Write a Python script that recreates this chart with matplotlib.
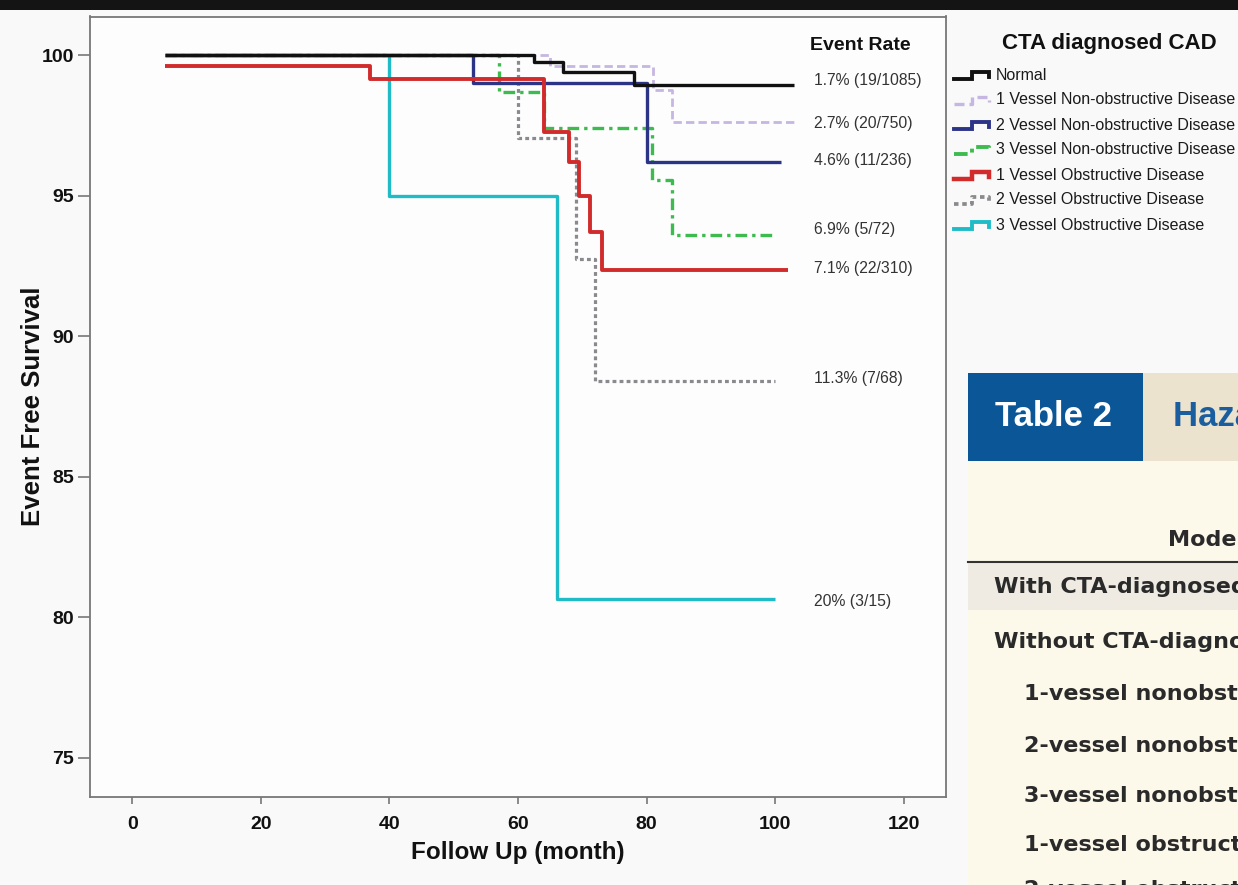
import matplotlib
matplotlib.use("Agg")
import matplotlib.pyplot as plt
from matplotlib.patches import Rectangle
from matplotlib.lines import Line2D

plt.rcParams['font.family'] = ['Liberation Sans', 'DejaVu Sans']

# ---- Kaplan-Meier step data (months, % event free) ----
normal_t = [5, 62.5, 67, 78, 103]
normal_s = [100, 99.75, 99.4, 98.93, 98.93]

v1_nonobs_t = [5, 65, 81, 84, 103]
v1_nonobs_s = [100, 99.6, 98.75, 97.6, 97.6]

v2_nonobs_t = [5, 53, 80, 101]
v2_nonobs_s = [100, 99.02, 96.2, 96.2]

v3_nonobs_t = [5, 57, 64, 80.8, 84, 100]
v3_nonobs_s = [100, 98.7, 97.4, 95.55, 93.6, 93.6]

v1_obs_t = [5, 37, 64, 68, 69.5, 71.2, 73, 102]
v1_obs_s = [99.6, 99.15, 97.25, 96.2, 95.0, 93.7, 92.35, 92.35]

v2_obs_t = [5, 60, 69, 72, 100]
v2_obs_s = [100, 97.05, 92.75, 88.4, 88.4]

v3_obs_t = [5, 40, 66, 100]
v3_obs_s = [100, 95.0, 80.65, 80.65]

group_names = ["Normal",
               "1 Vessel Non-obstructive Disease",
               "2 Vessel Non-obstructive Disease",
               "3 Vessel Non-obstructive Disease",
               "1 Vessel Obstructive Disease",
               "2 Vessel Obstructive Disease",
               "3 Vessel Obstructive Disease"]

event_rates = ["1.7% (19/1085)", "2.7% (20/750)", "4.6% (11/236)",
               "6.9% (5/72)", "7.1% (22/310)", "11.3% (7/68)", "20% (3/15)"]
event_label_y = [99.08, 97.55, 96.23, 93.8, 92.39, 88.5, 80.55]

x_ticks = [0, 20, 40, 60, 80, 100, 120]
y_ticks = [75, 80, 85, 90, 95, 100]

table_rows = ["With CTA-diagnosed CAD",
              "Without CTA-diagnosed CAD",
              "1-vessel nonobstructive",
              "2-vessel nonobstructive",
              "3-vessel nonobstructive",
              "1-vessel obstructive",
              "2-vessel obstructive"]

# ---- styles ----
series = [
    (normal_t, normal_s, dict(color="#111111", lw=2.4, ls="-")),
    (v1_nonobs_t, v1_nonobs_s, dict(color="#c6b6e2", lw=2.0, ls=(0, (3, 1.5)))),
    (v2_nonobs_t, v2_nonobs_s, dict(color="#2c3488", lw=2.4, ls="-")),
    (v3_nonobs_t, v3_nonobs_s, dict(color="#3dbb4e", lw=2.4, ls=(0, (3.5, 1.5, 1, 1.5)))),
    (v1_obs_t, v1_obs_s, dict(color="#d12b2b", lw=2.8, ls="-")),
    (v2_obs_t, v2_obs_s, dict(color="#8a8a8e", lw=2.3, ls=(0, (1.2, 1.0)))),
    (v3_obs_t, v3_obs_s, dict(color="#1fbcc8", lw=2.4, ls="-")),
]

W, H = 1238, 885
fig = plt.figure(figsize=(W / 100, H / 100), dpi=100, facecolor="#f9f9f9")

# full-figure overlay in pixel units for the decorations around the plot
ov = fig.add_axes([0, 0, 1, 1], zorder=0)
ov.set_xlim(0, W)
ov.set_ylim(H, 0)
ov.axis("off")
ov.add_patch(Rectangle((0, 0), W, 10, color="#141414", lw=0))

ax = fig.add_axes([90 / W, 1 - 797 / H, (946 - 90) / W, (797 - 16.5) / H], zorder=2)
ax.set_facecolor("#fdfdfd")

order = [6, 5, 3, 2, 1, 0, 4]
for i in order:
    t, s, st = series[i]
    ax.step(t, s, where="post", solid_capstyle="butt", dash_capstyle="butt",
            zorder=3 + (i == 4), **st)

ax.set_xlim(-6.6, 126.6)
ax.set_ylim(73.6, 101.37)
ax.set_xticks(x_ticks)
ax.set_yticks(y_ticks)
ax.tick_params(axis="both", direction="out", width=1.2, color="#777777", labelsize=14)
ax.tick_params(axis="x", length=5, pad=8.5)
ax.tick_params(axis="y", length=9, pad=2.5)
for lab in ax.get_xticklabels() + ax.get_yticklabels():
    lab.set_fontweight("bold")
    lab.set_color("#111111")
for sp in ax.spines.values():
    sp.set_color("#777777")
    sp.set_linewidth(1.3)

ax.set_xlabel("Follow Up (month)", fontsize=17.5, fontweight="bold", color="#111111", labelpad=6)
ax.set_ylabel("Event Free Survival", fontsize=18.5, fontweight="bold", color="#111111")
ax.yaxis.set_label_coords((45 - 90) / 856, 0.5)

# event rates beside each curve
ax.text(860, 45, "Event Rate", transform=ov.transData, ha="center", va="center",
        fontsize=14, fontweight="bold", color="#111111")
for txt, yv in zip(event_rates, event_label_y):
    ax.text(106.05, yv, txt, ha="left", va="center", fontsize=11.3, color="#333333")

# legend with step-shaped keys
ov.text(1109, 43, "CTA diagnosed CAD", ha="center", va="center",
        fontsize=16, fontweight="bold", color="#111111")
leg_y0, leg_dy = 75, 25
for k, name in enumerate(group_names):
    yy = leg_y0 + leg_dy * k
    st = series[k][2]
    ov.add_line(Line2D([954, 972, 972, 989, 989], [yy + 4, yy + 4, yy - 3, yy - 3, yy + 2],
                       color=st["color"], lw=st["lw"] + 0.4, ls=st["ls"],
                       solid_joinstyle="miter"))
    ov.text(996, yy, name, ha="left", va="center", fontsize=11.5, color="#1a1a1a")

# fragment of the neighbouring table
ov.add_patch(Rectangle((968, 373), 175, 88, color="#0a5697", lw=0))
ov.add_patch(Rectangle((1143, 373), W - 1143, 88, color="#ece3cf", lw=0))
ov.add_patch(Rectangle((968, 461), W - 968, H - 461, color="#fcf8ea", lw=0))
ov.add_patch(Rectangle((968, 563), W - 968, 47, color="#efebe3", lw=0))
ov.plot([968, W], [562, 562], color="#333333", lw=1.5)
ov.text(995, 417, "Table 2", ha="left", va="center", fontsize=25, fontweight="bold", color="white")
ov.text(1173, 417, "Hazard Ratios", ha="left", va="center", fontsize=25, fontweight="bold",
        color="#1a5e9f")
ov.text(1168, 540, "Model", ha="left", va="center", fontsize=16, fontweight="bold",
        color="#2a2a2a", family="DejaVu Sans")
row_y = [587, 642, 694, 746, 796, 845, 890]
row_x = [994, 994, 1024, 1024, 1024, 1024, 1024]
for txt, xx, yy in zip(table_rows, row_x, row_y):
    ov.text(xx, yy, txt, ha="left", va="center", fontsize=16, fontweight="bold",
            color="#2a2a2a", family="DejaVu Sans")

fig.savefig("out.png", dpi=100, facecolor=fig.get_facecolor())
